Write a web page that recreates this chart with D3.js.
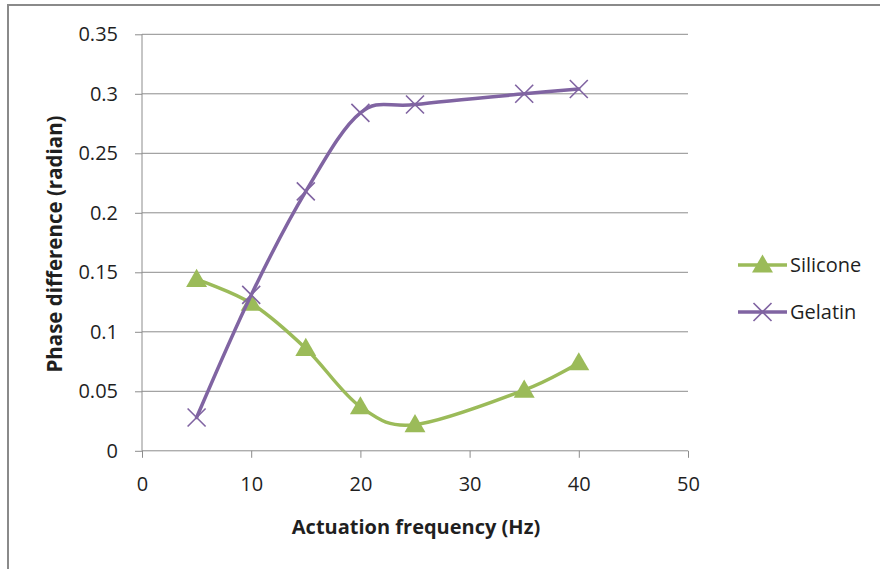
<!DOCTYPE html>
<html>
<head>
<meta charset="utf-8">
<script src="https://cdn.jsdelivr.net/npm/d3@7"></script>
<style>
  html, body { margin: 0; padding: 0; background: #ffffff; }
  svg { display: block; font-family: "Open Sans", "Noto Sans", sans-serif; }
</style>
</head>
<body>
<svg id="chart" width="880" height="569"></svg>
<script>
// Actuation frequency (Hz) at which each sample was measured
const frequencies = [5, 10, 15, 20, 25, 35, 40];
// Phase difference (radian) per material
const siliconeValues = [0.144, 0.124, 0.086, 0.037, 0.022, 0.051, 0.074];
const gelatinValues  = [0.028, 0.131, 0.218, 0.284, 0.291, 0.300, 0.304];
const seriesNames = ["Silicone", "Gelatin"];
const xTicks = [0, 10, 20, 30, 40, 50];
const yTicks = [0, 0.05, 0.1, 0.15, 0.2, 0.25, 0.3, 0.35];

const colors = { Silicone: "#9bbb59", Gelatin: "#8064a2" };
const gridColor = "#8c8c8c";
const textColor = "#1f1f1f";

const svg = d3.select("#chart");

// Chart frame
svg.append("rect")
  .attr("x", 8).attr("y", 5)
  .attr("width", 900).attr("height", 600)
  .attr("fill", "none")
  .attr("stroke", "#8a8a8a")
  .attr("stroke-width", 2);

const plot = { left: 142, right: 688, top: 34.3, bottom: 450.8 };

const x = d3.scaleLinear().domain([0, 50]).range([plot.left, plot.right]);
const y = d3.scaleLinear().domain([0, 0.35]).range([plot.bottom, plot.top]);

// Horizontal gridlines
svg.append("g")
  .selectAll("line")
  .data(yTicks.filter(t => t > 0))
  .join("line")
  .attr("x1", plot.left).attr("x2", plot.right)
  .attr("y1", d => y(d)).attr("y2", d => y(d))
  .attr("stroke", gridColor).attr("stroke-width", 1);

// Y axis
const yAxis = svg.append("g")
  .attr("transform", `translate(${plot.left},0)`)
  .call(d3.axisLeft(y).tickValues(yTicks).tickSize(7).tickPadding(17)
    .tickFormat(d => d3.format("")(+d.toFixed(2))));
yAxis.select(".domain").attr("stroke", gridColor).attr("d", `M0,${plot.top}V${plot.bottom}`);
yAxis.selectAll(".tick line").attr("stroke", gridColor);
yAxis.selectAll(".tick text")
  .attr("fill", textColor)
  .style("font-size", "20px")
  .style("font-family", "'Open Sans', sans-serif");

// X axis
const xAxis = svg.append("g")
  .attr("transform", `translate(0,${plot.bottom})`)
  .call(d3.axisBottom(x).tickValues(xTicks).tickSize(7).tickPadding(19));
xAxis.select(".domain").attr("stroke", gridColor).attr("d", `M${plot.left},0H${plot.right}`);
xAxis.selectAll(".tick line").attr("stroke", gridColor);
xAxis.selectAll(".tick text")
  .attr("fill", textColor)
  .style("font-size", "20px")
  .style("font-family", "'Open Sans', sans-serif");

// Axis titles
svg.append("text")
  .attr("x", 416).attr("y", 534)
  .attr("text-anchor", "middle")
  .attr("fill", textColor)
  .style("font-size", "20px").style("font-weight", "bold")
  .text("Actuation frequency (Hz)");

svg.append("text")
  .attr("transform", "translate(62,244) rotate(-90)")
  .attr("text-anchor", "middle")
  .attr("fill", textColor)
  .style("font-size", "20.5px").style("font-weight", "bold")
  .text("Phase difference (radian)");

const series = [
  { name: "Silicone", values: siliconeValues },
  { name: "Gelatin", values: gelatinValues }
];

const line = d3.line()
  .x(d => x(d[0]))
  .y(d => y(d[1]))
  .curve(d3.curveCardinal.tension(0));

const triangle = d3.symbol().type(d3.symbolTriangle).size(190);

function drawMarker(g, name, cx, cy) {
  if (name === "Silicone") {
    g.append("path")
      .attr("d", triangle())
      .attr("transform", `translate(${cx},${cy + 1.5})`)
      .attr("fill", colors.Silicone);
  } else {
    const r = 9;
    g.append("path")
      .attr("d", `M${cx - r},${cy - r}L${cx + r},${cy + r}M${cx - r},${cy + r}L${cx + r},${cy - r}`)
      .attr("stroke", colors.Gelatin)
      .attr("stroke-width", 1.6)
      .attr("fill", "none");
  }
}

series.forEach(s => {
  const pts = frequencies.map((f, i) => [f, s.values[i]]);
  const g = svg.append("g");
  g.append("path")
    .attr("d", line(pts))
    .attr("fill", "none")
    .attr("stroke", colors[s.name])
    .attr("stroke-width", 3.5)
    .attr("stroke-linecap", "round");
  pts.forEach(p => drawMarker(g, s.name, x(p[0]), y(p[1])));
});

// Legend
const legend = svg.append("g");
seriesNames.forEach((name, i) => {
  const ly = 265 + i * 47;
  legend.append("line")
    .attr("x1", 738).attr("x2", 787)
    .attr("y1", ly).attr("y2", ly)
    .attr("stroke", colors[name])
    .attr("stroke-width", 3.5);
  drawMarker(legend, name, 762.5, ly);
  legend.append("text")
    .attr("x", 790).attr("y", ly)
    .attr("dy", "0.35em")
    .attr("fill", textColor)
    .style("font-size", "20px")
    .text(name);
});
</script>
</body>
</html>
